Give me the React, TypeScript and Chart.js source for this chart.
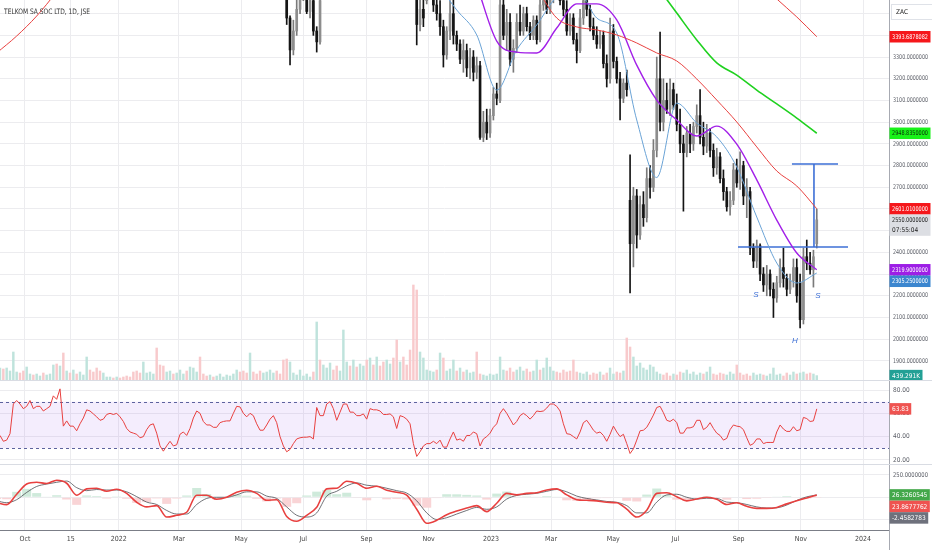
import { useEffect, useRef } from "react";
import { Chart, registerables } from "chart.js";

Chart.register(...registerables);

const FONT = "'Liberation Sans Narrow', 'DejaVu Sans Condensed', 'Roboto Condensed', 'Liberation Sans', sans-serif";
const GRID = "#ececef";

// ---------- time axis (days counted from 2021-10-01) ----------
const xMinDay = -24.5;
const xMaxDay = 847.5;
const tickDays = [0, 45, 92, 151, 212, 273, 335, 396, 457, 516, 577, 638, 700, 761, 822];
const tickLabels = ["Oct", "15", "2022", "Mar", "May", "Jul", "Sep", "Nov", "2023", "Mar", "May", "Jul", "Sep", "Nov", "2024"];

// all series are sampled on one grid (about two sessions per sample)
const sampleStartDay = -24.5;
const sampleStepDays = 3.27;
const dayOfSample = (s: number) => sampleStartDay + s * sampleStepDays;

// ---------- price candles [open, high, low, close] (ZAc) ----------
const candlesJun2022Start = 86;
const candlesJun2022 = [
  [3600, 3640, 3450, 3480], [3480, 3490, 3264, 3333], [3333, 3470, 3310, 3420], [3420, 3580, 3400, 3520],
  [3520, 3640, 3500, 3600], [3600, 3660, 3560, 3620], [3620, 3650, 3500, 3510], [3510, 3600, 3480, 3560],
  [3560, 3580, 3400, 3420], [3420, 3440, 3323, 3370], [3370, 3600, 3360, 3560],
];
const candlesSep2022Start = 125;
const candlesSep2022 = [
  [3600, 3640, 3356, 3450], [3450, 3580, 3420, 3520], [3520, 3570, 3440, 3480], [3560, 3650, 3545, 3620],
  [3620, 3680, 3600, 3640], [3640, 3670, 3510, 3540], [3540, 3580, 3470, 3500], [3500, 3560, 3400, 3440],
  [3440, 3470, 3254, 3310], [3310, 3440, 3290, 3420], [3420, 3560, 3380, 3500], [3500, 3570, 3360, 3400],
  [3400, 3420, 3330, 3360], [3360, 3380, 3270, 3290], [3290, 3380, 3230, 3330], [3330, 3360, 3210, 3250],
  [3250, 3340, 3200, 3300], [3300, 3330, 3190, 3230], [3230, 3300, 3200, 3260], [3260, 3280, 2920, 2930],
  [2930, 3050, 2910, 3000], [3000, 3060, 2920, 2950], [2950, 3060, 2930, 3030], [3030, 3160, 3010, 3130],
  [3130, 3180, 3080, 3110], [3100, 3600, 3090, 3540], [3540, 3600, 3380, 3400], [3400, 3520, 3330, 3460],
  [3460, 3500, 3260, 3290], [3290, 3380, 3230, 3340], [3340, 3500, 3320, 3460], [3460, 3540, 3400, 3420],
  [3420, 3530, 3400, 3500], [3500, 3530, 3420, 3440], [3440, 3460, 3380, 3400], [3400, 3490, 3380, 3470],
  [3470, 3490, 3360, 3380], [3380, 3570, 3370, 3540], [3540, 3600, 3515, 3560], [3560, 3620, 3500, 3520],
  [3520, 3610, 3500, 3580], [3580, 3640, 3550, 3600], [3600, 3650, 3570, 3620], [3620, 3650, 3540, 3560],
  [3560, 3590, 3490, 3520], [3520, 3560, 3400, 3420], [3420, 3500, 3400, 3480], [3480, 3500, 3360, 3380],
  [3380, 3410, 3273, 3330], [3330, 3520, 3320, 3480], [3480, 3600, 3450, 3560], [3560, 3600, 3490, 3520],
  [3520, 3540, 3420, 3440], [3440, 3480, 3380, 3400], [3400, 3440, 3340, 3360], [3360, 3420, 3340, 3400],
  [3400, 3420, 3250, 3270], [3270, 3310, 3162, 3200], [3200, 3480, 3180, 3420], [3420, 3450, 3250, 3280],
  [3280, 3300, 3180, 3200], [3200, 3230, 3010, 3110], [3110, 3200, 3090, 3180], [3180, 3240, 3120, 3150],
  [2640, 2850, 2213, 2440], [2440, 2700, 2333, 2660], [2660, 2690, 2420, 2480], [2480, 2660, 2460, 2620],
  [2620, 2680, 2520, 2560], [2560, 2790, 2540, 2740], [2740, 2800, 2650, 2700], [2700, 2920, 2680, 2870],
  [2870, 3300, 2840, 3200], [3200, 3415, 2960, 3000], [3000, 3200, 2960, 3100], [3100, 3180, 3040, 3060],
  [3060, 3200, 3030, 3150], [3150, 3180, 3060, 3080], [3080, 3130, 2960, 2990], [2990, 3060, 2860, 2900],
  [2900, 2940, 2590, 2860], [2860, 2980, 2840, 2950], [2950, 2990, 2860, 2900], [2900, 3000, 2870, 2980],
  [2980, 3080, 2950, 3030], [3030, 3150, 2900, 2930], [2930, 3000, 2850, 2890], [2890, 2990, 2860, 2950],
  [2950, 2970, 2840, 2870], [2870, 2900, 2750, 2790], [2790, 2880, 2760, 2840], [2840, 2860, 2720, 2740],
  [2740, 2780, 2640, 2680], [2680, 2700, 2590, 2610], [2610, 2680, 2572, 2640], [2640, 2810, 2620, 2780],
  [2780, 2830, 2700, 2720], [2720, 2863, 2690, 2800], [2800, 2820, 2620, 2660], [2660, 2740, 2560, 2700],
  [2680, 2700, 2390, 2420], [2420, 2440, 2330, 2360], [2360, 2457, 2330, 2430], [2430, 2440, 2270, 2300],
  [2300, 2330, 2220, 2250], [2250, 2340, 2200, 2300], [2300, 2320, 2200, 2230], [2230, 2260, 2100, 2190],
  [2190, 2290, 2170, 2260], [2260, 2370, 2240, 2330], [2330, 2420, 2240, 2280], [2280, 2300, 2200, 2230],
  [2230, 2300, 2210, 2270], [2270, 2370, 2240, 2330], [2330, 2370, 2170, 2200], [2260, 2300, 2052, 2090],
  [2090, 2420, 2070, 2380], [2380, 2457, 2320, 2350], [2350, 2400, 2300, 2320], [2320, 2410, 2240, 2380],
  [2440, 2600, 2420, 2550],
];

// ---------- moving averages (one value every 6 samples, starting at sample -1) ----------
const maFirstSample = -1;
const maStride = 6;
const maSlowLeftStart = 0;
const maSlowLeft = [3319, 3397, 3489, 3600];
const maSlowRightStart = 38;
const maSlowRight = [3655, 3568, 3485, 3394];
const maGreenStart = 33;
const maGreen = [3628, 3503, 3379, 3273, 3217, 3148, 3084, 3019, 2949];
const maRedStart = 27;
const maRed = [3618, 3480, 3439, 3425, 3402, 3365, 3319, 3282, 3199, 3102, 3001, 2886, 2775, 2706, 2601];
const maPurpleStart = 24;
const maPurple = [3632, 3374, 3323, 3319, 3434, 3545, 3545, 3471, 3263, 3102, 3010, 2936, 2982, 2899, 2734, 2549, 2397, 2320];
const maBlueStart = 22;
const maBlue = [3640, 3517, 3402, 3148, 3333, 3448, 3577, 3610, 3480, 3411, 3010, 2745, 3088, 2996, 2932, 2793, 2563, 2351, 2259, 2305];

// ---------- volume (thousands of shares) ----------
const volumeK = [
  1200, 1100, 1200, 900, 2800, 800, 700, 900, 1300, 600,
  500, 600, 400, 700, 500, 600, 1500, 1600, 1400, 2700,
  900, 700, 1000, 600, 800, 500, 2300, 1000, 800, 1200,
  900, 700, 300, 300, 200, 300, 200, 300, 400, 300,
  800, 900, 700, 1800, 700, 800, 600, 3200, 1500, 1400,
  800, 900, 600, 700, 1000, 600, 900, 1300, 1200, 800,
  2300, 600, 400, 500, 300, 400, 600, 300, 500, 400,
  600, 1000, 800, 900, 700, 2700, 800, 600, 900, 700,
  800, 1000, 700, 900, 600, 2000, 2100, 1800, 700, 500,
  1000, 400, 600, 300, 800, 5800, 2000, 1500, 1200, 1700,
  1000, 1400, 900, 5000, 1800, 1400, 2000, 1300, 1600, 1400,
  2000, 2200, 1500, 2300, 1400, 1800, 2000, 1600, 2200, 4000,
  1800, 2300, 1500, 3000, 9500, 9000, 2800, 2200, 1000, 900,
  800, 1000, 2700, 2200, 900, 1100, 2000, 900, 1200, 800,
  1000, 700, 800, 2800, 600, 500, 400, 600, 500, 600,
  2300, 1000, 900, 1200, 800, 1000, 1300, 900, 1100, 800,
  900, 2000, 1000, 1200, 2200, 1300, 900, 800, 700, 1000,
  800, 900, 2000, 800, 700, 600, 800, 500, 700, 600,
  800, 500, 700, 1200, 600, 800, 700, 900, 4200, 3300,
  2300, 1400, 1700, 1200, 1000, 1500, 1300, 800, 600, 500,
  700, 400, 600, 500, 800, 700, 1000, 600, 800, 500,
  700, 600, 800, 1300, 600, 500, 700, 600, 500, 800,
  600, 1500, 700, 500, 600, 400, 700, 500, 600, 500,
  400, 600, 1200, 500, 600, 400, 700, 500, 800, 600,
  700, 800, 600, 700, 600, 439.291,
];

// ---------- RSI ----------
const rsiValues = [
  41, 36, 37, 42.5, 68, 71, 68, 64, 66, 71,
  64, 66, 66, 62, 64, 66, 75, 72, 81, 49,
  53.5, 49, 49, 45, 51, 56, 63, 62, 59.5, 57,
  54, 55, 59, 60, 59, 60, 57, 53, 47, 44,
  43, 42, 39, 40, 46, 50, 51, 43, 32, 27.5,
  32, 36, 32, 33, 42, 44, 41, 47, 56, 62,
  60, 53, 50, 50, 48, 48, 52, 53, 53.5, 53.5,
  60, 66, 65.5, 60, 57, 60, 58, 51, 45.5, 45.5,
  50, 55, 58, 52, 40, 32, 27, 29, 34, 38,
  39, 39.5, 39.5, 40, 38, 65, 58, 58, 68, 70,
  64, 54, 61, 68, 68, 61, 61, 58, 58, 59.5,
  55, 64, 63, 63, 62, 59, 59, 59.5, 57, 47,
  58, 57, 55, 51, 34, 23, 27, 32, 34, 34,
  36, 34, 37, 31, 31, 38, 44, 37, 38, 36,
  41, 41, 44, 42.5, 32, 38, 40, 43, 48, 51,
  60, 64, 60, 55, 50, 53, 58, 60, 58, 55,
  58, 62, 61.5, 62, 64.5, 68, 68, 66, 62, 51,
  42.5, 42, 40, 38, 44, 52, 54, 50, 45.5, 43,
  44, 41, 36, 42, 49, 44, 40, 42, 34, 25.5,
  29.5, 37, 45, 45.5, 48, 53, 58.5, 65, 66, 60.5,
  54, 53, 55, 52, 43, 43, 47.5, 47.5, 48.5, 54,
  54, 46, 48, 52, 47, 43, 41, 37, 38.5, 46,
  50, 49, 48.5, 46, 39, 32.5, 34, 38, 38, 34,
  35, 35, 35, 44, 50, 46.5, 44.5, 44.5, 48.5, 45,
  46, 56.5, 55.5, 53, 53.5, 63.83,
];
const rsiUpper = 70;
const rsiLower = 30;

// ---------- MACD (one value every 3 samples, starting at sample -1) ----------
const macdFirstSample = -1;
const macdStride = 3;
const macdLine = [
  -60, -83, 34, 148, 168, 155, 191, 157, 23, 94,
  101, 67, 90, 44, -56, -108, -94, -222, -202, -168,
  23, 23, -23, 0, 56, 78, 44, -34, -27, -215,
  -269, -202, -112, 94, 101, 179, 157, 101, 124, 78,
  56, 23, -134, -292, -258, -195, -155, -121, -94, -161,
  -67, 44, 27, 44, 51, 81, 94, 27, -27, -34,
  -40, -56, -61, -134, -222, -145, 44, 51, 7, -40,
  -20, 0, -23, -81, -61, -101, -124, -124, -114, -74,
  -40, -8, 23.8677762,
];
const signalLine = [
  -40, -61, -27, 54, 121, 148, 168, 182, 108, 74,
  87, 81, 81, 61, 7, -54, -81, -148, -188, -188,
  -81, -13, 0, 0, 27, 61, 61, 13, -13, -108,
  -202, -222, -175, 13, 67, 128, 161, 135, 124, 101,
  74, 47, -40, -175, -249, -229, -188, -148, -114, -135,
  -108, -20, 20, 34, 44, 67, 87, 61, 13, -13,
  -30, -47, -56, -94, -175, -175, -54, 27, 34, 0,
  -20, -11, -13, -54, -61, -81, -108, -121, -118, -87,
  -35, 5, 26.3260545,
];
const macdHist = [
  -20, -22, 61, 94, 47, 7, 23, -25, -85, 20,
  14, -14, 9, -17, -63, -54, -13, -74, -14, 20,
  104, 36, -23, 0, 29, 17, -17, -47, -14, -107,
  -67, 20, 63, 81, 34, 51, -4, -34, 0, -23,
  -18, -24, -94, -117, -9, 34, 33, 27, 20, -26,
  41, 64, 7, 10, 7, 14, 7, -34, -40, -21,
  -10, -9, -5, -40, -47, 30, 98, 24, -27, -40,
  0, 11, -10, -27, 0, -20, -16, -3, 4, 13,
  -5, -13, -2.4582783,
];

// ---------- axis ticks ----------
const priceTicks = [1900, 2000, 2100, 2200, 2300, 2400, 2500, 2600, 2700, 2800, 2900, 3000, 3100, 3200, 3300, 3400, 3500];
const rsiTicks = [20, 40, 60, 80];
const macdTicks = [-250, 0, 250];

// ---------- drawn pattern (inverse head & shoulders) ----------
const necklinePrice = 2425;
const necklineDays = [699.4, 807.3];
const targetPrice = 2807;
const targetDays = [752.3, 797.5];
const measureDay = 773.9;
const patternLabels = [
  { text: "S", day: 717, price: 2204 },
  { text: "H", day: 755.3, price: 1992 },
  { text: "S", day: 777.8, price: 2199 },
];

// ---------- last values shown on the price scale ----------
const lastSlow = 3393.6878082;
const lastGreen = 2948.835;
const lastRed = 2601.01;
const lastClose = 2550;
const countdown = "07:55:04";
const lastPurple = 2319.9;
const lastBlue = 2305.25;
const lastVolume = 439.291;
const lastRsi = 63.83;

const LABEL_MAX_W = 35;

type Badge = { scale: string; value: number; text: string; text2?: string; bg: string; fg: string };

function drawYLabels(chart: any, ticks: number[], digits: number) {
  const { ctx, chartArea, scales } = chart;
  ctx.save();
  ctx.font = `6.5px ${FONT}`;
  ctx.fillStyle = "#5a5d66";
  ctx.textBaseline = "middle";
  ctx.textAlign = "left";
  ticks.forEach((v) => {
    const y = scales.y.getPixelForValue(v);
    ctx.fillText(v.toFixed(digits), chartArea.right + 4, y, LABEL_MAX_W);
  });
  ctx.restore();
}

function drawBadges(chart: any, badges: Badge[]) {
  const { ctx, chartArea } = chart;
  const h = 11.5;
  const items = badges.map((b) => ({
    b,
    y: chart.scales[b.scale].getPixelForValue(b.value),
    top: 0,
    hh: b.text2 ? h * 1.85 : h,
  }));
  items.sort((a, b) => a.y - b.y);
  let prev = -Infinity;
  for (const it of items) {
    let top = it.y - h / 2;
    if (top < prev) top = prev;
    it.top = top;
    prev = top + it.hh;
  }
  ctx.save();
  ctx.font = `6.5px ${FONT}`;
  ctx.textBaseline = "middle";
  ctx.textAlign = "left";
  for (const it of items) {
    const tw = Math.min(LABEL_MAX_W + 1, Math.max(ctx.measureText(it.b.text).width, it.b.text2 ? ctx.measureText(it.b.text2).width : 0));
    ctx.fillStyle = it.b.bg;
    ctx.fillRect(chartArea.right + 0.5, it.top, tw + 5, it.hh);
    ctx.fillStyle = it.b.fg;
    ctx.fillText(it.b.text, chartArea.right + 3, it.top + h / 2 + 0.5, LABEL_MAX_W + 1);
    if (it.b.text2) ctx.fillText(it.b.text2, chartArea.right + 3, it.top + h * 1.35 + 0.5, LABEL_MAX_W + 1);
  }
  ctx.restore();
}

function xScale(showLabels: boolean) {
  return {
    type: "linear",
    min: xMinDay,
    max: xMaxDay,
    offset: false,
    afterBuildTicks: (s: any) => {
      s.ticks = tickDays.map((v) => ({ value: v }));
    },
    afterFit: (s: any) => {
      s.height = showLabels ? 20 : 0;
      s.paddingLeft = 0;
      s.paddingRight = 0;
    },
    grid: { color: GRID, drawTicks: false, offset: false },
    border: { display: showLabels, color: "#7b7e87", width: 1 },
    ticks: {
      display: showLabels,
      autoSkip: false,
      maxRotation: 0,
      padding: 5,
      color: "#444",
      font: { family: FONT, size: 7 },
      callback: (v: any) => {
        const i = tickDays.indexOf(v);
        return i >= 0 ? tickLabels[i] : "";
      },
    },
  };
}

function yScale(min: number, max: number, ticks: number[]) {
  return {
    type: "linear",
    position: "right",
    min,
    max,
    afterBuildTicks: (s: any) => {
      s.ticks = ticks.map((v) => ({ value: v }));
    },
    afterFit: (s: any) => {
      s.width = 43;
      s.paddingTop = 0;
      s.paddingBottom = 0;
    },
    grid: { color: GRID, drawTicks: false },
    border: { display: true, color: "#a7aab2", width: 1 },
    ticks: { display: false },
  };
}

const baseOptions = {
  animation: false,
  responsive: false,
  events: [],
  layout: { padding: 0 },
  plugins: { legend: { display: false }, tooltip: { enabled: false } },
};

function maDataset(start: number, values: number[], color: string, width: number) {
  return {
    type: "line",
    data: values.map((v, j) => ({ x: dayOfSample(maFirstSample + (start + j) * maStride), y: v })),
    borderColor: color,
    borderWidth: width,
    pointRadius: 0,
    cubicInterpolationMode: "monotone",
    order: 0,
  };
}

function segDataset(points: number[][], color: string) {
  return {
    type: "line",
    data: points.map((p) => ({ x: p[0], y: p[1] })),
    borderColor: color,
    borderWidth: 1.6,
    pointRadius: 0,
    tension: 0,
    order: 0,
  };
}

function priceConfig() {
  const pts: any[] = [];
  candlesJun2022.forEach((c, i) => pts.push({ s: candlesJun2022Start + i, o: c[0], h: c[1], l: c[2], c: c[3] }));
  candlesSep2022.forEach((c, i) => pts.push({ s: candlesSep2022Start + i, o: c[0], h: c[1], l: c[2], c: c[3] }));
  const up = (p: any) => p.c >= p.o;
  const blue = "#3c6fd6";
  const decor = {
    id: "priceDecor",
    afterDatasetsDraw(chart: any) {
      const { ctx, scales } = chart;
      ctx.save();
      ctx.font = "italic 8px 'Liberation Sans', sans-serif";
      ctx.fillStyle = blue;
      ctx.textAlign = "center";
      ctx.textBaseline = "middle";
      patternLabels.forEach((l) => ctx.fillText(l.text, scales.x.getPixelForValue(l.day), scales.y.getPixelForValue(l.price)));
      ctx.restore();
    },
    afterDraw(chart: any) {
      const { ctx, chartArea } = chart;
      drawYLabels(chart, priceTicks, 7);
      ctx.save();
      ctx.fillStyle = "#fff";
      ctx.fillRect(chartArea.right + 2, 4.5, 42, 15);
      ctx.strokeStyle = "#dfe2e8";
      ctx.lineWidth = 1;
      ctx.strokeRect(chartArea.right + 2.5, 4.5, 42, 15);
      ctx.fillStyle = "#222";
      ctx.font = `6.5px ${FONT}`;
      ctx.textBaseline = "middle";
      ctx.fillText("ZAC", chartArea.right + 7, 12.5);
      ctx.restore();
      drawBadges(chart, [
        { scale: "y", value: lastSlow, text: lastSlow.toFixed(7), bg: "#f5171b", fg: "#fff" },
        { scale: "y", value: lastGreen, text: lastGreen.toFixed(7), bg: "#19f219", fg: "#0b2a0b" },
        { scale: "y", value: lastRed, text: lastRed.toFixed(7), bg: "#f5171b", fg: "#fff" },
        { scale: "y", value: lastClose, text: lastClose.toFixed(7), text2: countdown, bg: "#dcdee3", fg: "#222" },
        { scale: "y", value: lastPurple, text: lastPurple.toFixed(7), bg: "#9d1ee6", fg: "#fff" },
        { scale: "y", value: lastBlue, text: lastBlue.toFixed(7), bg: "#3b86cf", fg: "#fff" },
        { scale: "yVol", value: lastVolume, text: lastVolume.toFixed(3) + "K", bg: "#22a095", fg: "#fff" },
      ]);
    },
  };
  return {
    type: "bar",
    data: {
      datasets: [
        maDataset(maSlowLeftStart, maSlowLeft, "#e8403f", 1),
        maDataset(maSlowRightStart, maSlowRight, "#e8403f", 1),
        maDataset(maGreenStart, maGreen, "#1fd11f", 1.6),
        maDataset(maRedStart, maRed, "#e8403f", 1),
        maDataset(maPurpleStart, maPurple, "#a21fe8", 1.4),
        maDataset(maBlueStart, maBlue, "#6aa3d6", 1),
        segDataset([[necklineDays[0], necklinePrice], [necklineDays[1], necklinePrice]], blue),
        segDataset([[targetDays[0], targetPrice], [targetDays[1], targetPrice]], blue),
        segDataset([[measureDay, necklinePrice], [measureDay, targetPrice]], blue),
        {
          type: "bar",
          data: pts.map((p) => ({ x: dayOfSample(p.s), y: [Math.min(p.o, p.c), Math.max(p.o, p.c) + 0.1] })),
          backgroundColor: pts.map((p) => (up(p) ? "#8d8d8d" : "#141414")),
          barThickness: 2,
          grouped: false,
          order: 1,
        },
        {
          type: "bar",
          data: pts.map((p) => ({ x: dayOfSample(p.s), y: [p.l, p.h] })),
          backgroundColor: pts.map((p) => (up(p) ? "#7a7a7a" : "#141414")),
          barThickness: 1,
          grouped: false,
          order: 2,
        },
        {
          type: "bar",
          yAxisID: "yVol",
          data: volumeK.map((v, i) => ({ x: dayOfSample(i), y: v })),
          backgroundColor: volumeK.map((_, i) => (rsiValues[i] >= rsiValues[Math.max(0, i - 1)] ? "#bfe3dc" : "#f8cacc")),
          barThickness: 1.8,
          grouped: false,
          order: 3,
        },
      ],
    },
    options: {
      ...baseOptions,
      scales: {
        x: xScale(false),
        y: yScale(1812, 3563, priceTicks),
        yVol: { type: "linear", display: false, min: 0, max: 38000 },
      },
    },
    plugins: [decor],
  };
}

function separator(chart: any) {
  const { ctx } = chart;
  ctx.save();
  ctx.strokeStyle = "#d9dce3";
  ctx.lineWidth = 1;
  ctx.beginPath();
  ctx.moveTo(0, 0.5);
  ctx.lineTo(chart.width, 0.5);
  ctx.stroke();
  ctx.restore();
}

function rsiConfig() {
  const decor = {
    id: "rsiDecor",
    beforeDatasetsDraw(chart: any) {
      const { ctx, chartArea: a, scales } = chart;
      const top = scales.y.getPixelForValue(rsiUpper);
      const bot = scales.y.getPixelForValue(rsiLower);
      ctx.save();
      ctx.fillStyle = "rgba(150, 80, 235, 0.1)";
      ctx.fillRect(a.left, top, a.right - a.left, bot - top);
      ctx.strokeStyle = "#5d629e";
      ctx.lineWidth = 1;
      ctx.setLineDash([3, 3]);
      [top, bot].forEach((py) => {
        ctx.beginPath();
        ctx.moveTo(a.left, Math.round(py) + 0.5);
        ctx.lineTo(a.right, Math.round(py) + 0.5);
        ctx.stroke();
      });
      ctx.restore();
    },
    afterDraw(chart: any) {
      separator(chart);
      drawYLabels(chart, rsiTicks, 2);
      drawBadges(chart, [{ scale: "y", value: lastRsi, text: lastRsi.toFixed(2), bg: "#ef5350", fg: "#fff" }]);
    },
  };
  return {
    type: "line",
    data: {
      datasets: [
        {
          data: rsiValues.map((v, i) => ({ x: dayOfSample(i), y: v })),
          borderColor: "#e8403f",
          borderWidth: 1,
          pointRadius: 0,
          tension: 0,
        },
      ],
    },
    options: {
      ...baseOptions,
      scales: { x: xScale(false), y: yScale(16.5, 88.6, rsiTicks) },
    },
    plugins: [decor],
  };
}

function macdConfig() {
  const dayOfMacd = (m: number) => dayOfSample(macdFirstSample + m * macdStride);
  const decor = {
    id: "macdDecor",
    afterDraw(chart: any) {
      separator(chart);
      const { ctx, chartArea } = chart;
      ctx.save();
      ctx.strokeStyle = "#a7aab2";
      ctx.lineWidth = 1;
      ctx.beginPath();
      ctx.moveTo(chartArea.right + 0.5, chartArea.bottom);
      ctx.lineTo(chartArea.right + 0.5, chart.height);
      ctx.stroke();
      ctx.restore();
      drawYLabels(chart, macdTicks, 7);
      drawBadges(chart, [
        { scale: "y", value: signalLine[signalLine.length - 1], text: signalLine[signalLine.length - 1].toFixed(7), bg: "#43a84a", fg: "#fff" },
        { scale: "y", value: macdLine[macdLine.length - 1], text: macdLine[macdLine.length - 1].toFixed(7), bg: "#ef5350", fg: "#fff" },
        { scale: "y", value: macdHist[macdHist.length - 1], text: macdHist[macdHist.length - 1].toFixed(7), bg: "#6e717c", fg: "#fff" },
      ]);
    },
  };
  return {
    type: "bar",
    data: {
      datasets: [
        {
          type: "line",
          data: macdLine.map((v, m) => ({ x: dayOfMacd(m), y: v })),
          borderColor: "#e8403f",
          borderWidth: 1.6,
          pointRadius: 0,
          cubicInterpolationMode: "monotone",
          order: 0,
        },
        {
          type: "line",
          data: signalLine.map((v, m) => ({ x: dayOfMacd(m), y: v })),
          borderColor: "#4d4f55",
          borderWidth: 0.8,
          pointRadius: 0,
          cubicInterpolationMode: "monotone",
          order: 1,
        },
        {
          type: "bar",
          data: macdHist.map((v, m) => ({ x: dayOfMacd(m), y: v })),
          backgroundColor: macdHist.map((v) => (v >= 0 ? "#cfeadb" : "#f9d4d6")),
          barPercentage: 0.9,
          categoryPercentage: 1,
          grouped: false,
          order: 2,
        },
      ],
    },
    options: {
      ...baseOptions,
      scales: { x: xScale(true), y: yScale(-367, 373, macdTicks) },
    },
    plugins: [decor],
  };
}

export default function App() {
  const refPrice = useRef<HTMLCanvasElement>(null);
  const refRsi = useRef<HTMLCanvasElement>(null);
  const refMacd = useRef<HTMLCanvasElement>(null);

  useEffect(() => {
    const charts = [
      new Chart(refPrice.current as any, priceConfig() as any),
      new Chart(refRsi.current as any, rsiConfig() as any),
      new Chart(refMacd.current as any, macdConfig() as any),
    ];
    return () => charts.forEach((c) => c.destroy());
  }, []);

  return (
    <div style={{ position: "absolute", left: 0, top: 0, width: 932, height: 550, background: "#fff", overflow: "hidden" }}>
      <canvas ref={refPrice} width={932} height={380} style={{ position: "absolute", left: 0, top: 0, width: 932, height: 380 }} />
      <canvas ref={refRsi} width={932} height={84} style={{ position: "absolute", left: 0, top: 380, width: 932, height: 84 }} />
      <canvas ref={refMacd} width={932} height={86} style={{ position: "absolute", left: 0, top: 464, width: 932, height: 86 }} />
      <div
        style={{
          position: "absolute",
          left: 4,
          top: 7,
          fontFamily: FONT,
          fontSize: "7.5px",
          color: "#333",
          whiteSpace: "nowrap",
          lineHeight: "10px",
          transform: "scaleX(0.88)",
          transformOrigin: "left center",
        }}
      >
        TELKOM SA SOC LTD, 1D, JSE
      </div>
    </div>
  );
}
